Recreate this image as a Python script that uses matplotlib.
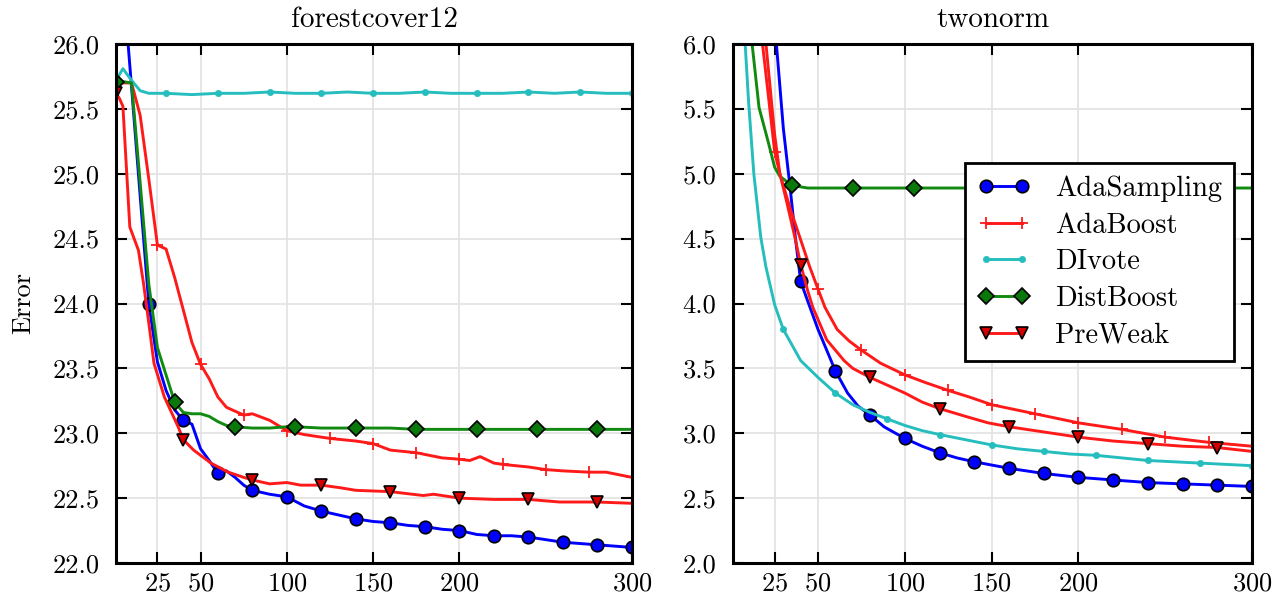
import matplotlib
matplotlib.use("Agg")
import matplotlib.pyplot as plt
from matplotlib.ticker import FormatStrFormatter, FixedLocator

plt.rcParams['font.family'] = ['cmr10', 'DejaVu Serif']
plt.rcParams['axes.formatter.use_mathtext'] = True
plt.rcParams['mathtext.fontset'] = 'cm'

# ---------------- data: forestcover12 ----------------
fc_ada_sampling_x = [1, 5, 10, 15, 20, 25, 30, 35, 40, 45, 50, 55, 60, 65, 70, 75, 80, 90, 100,
                     110, 120, 130, 140, 150, 160, 170, 180, 190, 200, 210, 220, 230, 240, 250,
                     260, 270, 280, 290, 300]
fc_ada_sampling_y = [27.2, 26.5, 25.67, 24.83, 24.0, 23.55, 23.33, 23.18, 23.10, 23.07, 22.88,
                     22.79, 22.69, 22.71, 22.66, 22.60, 22.56, 22.53, 22.51, 22.44, 22.40, 22.37,
                     22.34, 22.32, 22.31, 22.29, 22.28, 22.26, 22.25, 22.22, 22.21, 22.21, 22.20,
                     22.18, 22.16, 22.15, 22.14, 22.13, 22.12]

fc_adaboost_x = [1, 5, 10, 15, 20, 25, 30, 35, 40, 45, 50, 55, 60, 65, 70, 75, 80, 90, 100, 110,
                 125, 140, 150, 160, 175, 190, 200, 206, 212, 220, 225, 240, 250, 260, 275, 285, 300]
fc_adaboost_y = [25.70, 25.70, 25.70, 25.45, 24.96, 24.45, 24.42, 24.20, 23.95, 23.70, 23.53,
                 23.42, 23.28, 23.20, 23.17, 23.14, 23.15, 23.10, 23.02, 22.99, 22.96, 22.94,
                 22.92, 22.87, 22.85, 22.81, 22.80, 22.79, 22.82, 22.77, 22.76, 22.74, 22.72,
                 22.71, 22.70, 22.70, 22.66]

fc_divote_x = [1, 5, 10, 15, 20, 30, 45, 60, 75, 90, 105, 120, 135, 150, 165, 180, 195, 210,
               225, 240, 255, 270, 285, 300]
fc_divote_y = [25.72, 25.81, 25.72, 25.64, 25.62, 25.62, 25.61, 25.62, 25.62, 25.63, 25.62,
               25.62, 25.63, 25.62, 25.62, 25.63, 25.62, 25.62, 25.62, 25.63, 25.62, 25.63,
               25.62, 25.62]

fc_distboost_x = [1, 5, 10, 15, 20, 25, 30, 35, 40, 45, 50, 55, 60, 65, 70, 80, 90, 100, 105,
                  120, 140, 160, 175, 200, 210, 245, 280, 300]
fc_distboost_y = [25.71, 25.71, 25.70, 24.93, 24.15, 23.66, 23.45, 23.24, 23.16, 23.15, 23.15,
                  23.13, 23.09, 23.06, 23.05, 23.04, 23.04, 23.05, 23.05, 23.04, 23.04, 23.04,
                  23.03, 23.03, 23.03, 23.03, 23.03, 23.03]

fc_preweak_x = [1, 3, 5, 9, 14, 17, 20, 23, 29, 37, 40, 46, 56, 66, 75, 80, 90, 100, 108, 120,
                131, 140, 160, 179, 185, 200, 220, 240, 258, 280, 300]
fc_preweak_y = [25.62, 25.58, 25.52, 24.59, 24.41, 24.15, 23.85, 23.54, 23.28, 23.05, 22.95,
                22.87, 22.77, 22.70, 22.66, 22.64, 22.61, 22.62, 22.60, 22.60, 22.58, 22.56,
                22.55, 22.52, 22.53, 22.50, 22.49, 22.49, 22.47, 22.47, 22.46]

# ---------------- data: twonorm ----------------
tn_ada_sampling_x = [1, 10, 20, 26, 30, 34, 37, 40, 44, 50, 55, 60, 67, 73, 80, 88, 100, 110,
                     120, 130, 140, 160, 180, 200, 220, 240, 260, 280, 300]
tn_ada_sampling_y = [14.0, 10.0, 7.4, 6.0, 5.35, 4.88, 4.50, 4.17, 4.02, 3.80, 3.64, 3.48, 3.31,
                     3.21, 3.14, 3.05, 2.96, 2.90, 2.85, 2.81, 2.78, 2.73, 2.69, 2.66, 2.64,
                     2.62, 2.61, 2.60, 2.59]

tn_adaboost_x = [1, 10, 18, 25, 28, 34, 40, 45, 50, 54, 61, 68, 75, 86, 100, 112, 125, 137, 150,
                 175, 200, 225, 250, 275, 300]
tn_adaboost_y = [11.0, 7.5, 6.0, 5.17, 5.00, 4.73, 4.49, 4.29, 4.11, 3.97, 3.80, 3.71, 3.64,
                 3.54, 3.45, 3.39, 3.33, 3.28, 3.22, 3.15, 3.08, 3.03, 2.97, 2.93, 2.90]

tn_divote_x = [1, 5, 8, 10, 13, 17, 20, 25, 30, 40, 50, 60, 70, 80, 90, 100, 110, 120, 135, 150,
               165, 180, 195, 210, 225, 240, 255, 270, 285, 300]
tn_divote_y = [9.5, 7.2, 6.0, 5.55, 5.0, 4.51, 4.28, 3.99, 3.80, 3.56, 3.43, 3.31, 3.22, 3.16,
               3.11, 3.06, 3.02, 2.99, 2.95, 2.91, 2.88, 2.86, 2.84, 2.83, 2.81, 2.79, 2.78,
               2.77, 2.76, 2.75]

tn_distboost_x = [1, 5, 10, 12, 16, 21, 25, 28, 35, 44, 50, 70, 105, 140, 175, 210, 245, 280, 300]
tn_distboost_y = [9.0, 7.5, 6.4, 6.0, 5.51, 5.26, 5.05, 4.98, 4.91, 4.89, 4.89, 4.89, 4.89,
                  4.89, 4.89, 4.89, 4.89, 4.89, 4.89]

tn_preweak_x = [1, 10, 20, 25, 28, 32, 37, 40, 44, 47, 55, 65, 70, 80, 90, 100, 110, 120, 135,
                148, 160, 180, 200, 220, 240, 260, 280, 300]
tn_preweak_y = [11.0, 7.6, 6.0, 5.30, 5.00, 4.78, 4.49, 4.30, 4.10, 3.97, 3.72, 3.56, 3.50,
                3.43, 3.37, 3.31, 3.24, 3.19, 3.13, 3.08, 3.05, 3.01, 2.97, 2.94, 2.92, 2.90,
                2.89, 2.86]

methods = ['AdaSampling', 'AdaBoost', 'DIvote', 'DistBoost', 'PreWeak']
titles = ['forestcover12', 'twonorm']
x_ticks = [25, 50, 100, 150, 200, 300]
fc_y_ticks = [22.0, 22.5, 23.0, 23.5, 24.0, 24.5, 25.0, 25.5, 26.0]
tn_y_ticks = [2.0, 2.5, 3.0, 3.5, 4.0, 4.5, 5.0, 5.5, 6.0]
y_label = 'Error'

panels = [
    dict(title=titles[0], yticks=fc_y_ticks, series={
        'AdaSampling': (fc_ada_sampling_x, fc_ada_sampling_y),
        'AdaBoost': (fc_adaboost_x, fc_adaboost_y),
        'DIvote': (fc_divote_x, fc_divote_y),
        'DistBoost': (fc_distboost_x, fc_distboost_y),
        'PreWeak': (fc_preweak_x, fc_preweak_y)}),
    dict(title=titles[1], yticks=tn_y_ticks, series={
        'AdaSampling': (tn_ada_sampling_x, tn_ada_sampling_y),
        'AdaBoost': (tn_adaboost_x, tn_adaboost_y),
        'DIvote': (tn_divote_x, tn_divote_y),
        'DistBoost': (tn_distboost_x, tn_distboost_y),
        'PreWeak': (tn_preweak_x, tn_preweak_y)}),
]

styles = {
    'AdaSampling': dict(color='#0000ff', marker='o', ms=9, mfc='#0000ff', mec='black', mew=1.2, step=20),
    'AdaBoost': dict(color='#ff1a1a', marker='+', ms=9, mfc='#ff1a1a', mec='#ff1a1a', mew=1.3, step=25),
    'DIvote': dict(color='#25bdbd', marker='o', ms=4.5, mfc='#25bdbd', mec='#25bdbd', mew=0.5, step=30),
    'DistBoost': dict(color='#108a10', marker='D', ms=8.5, mfc='#0a780a', mec='black', mew=1.2, step=35),
    'PreWeak': dict(color='#ff1a1a', marker='v', ms=8.5, mfc='#d40000', mec='black', mew=1.2, step=40),
}

fig = plt.figure(figsize=(12.8, 5.98), dpi=100)
W, H = 1280, 598
boxes = [(116, 632), (733, 1252)]
top_px, bot_px = 44, 563

axes = []
for (l, r), p in zip(boxes, panels):
    ax = fig.add_axes([l / W, 1 - bot_px / H, (r - l) / W, (bot_px - top_px) / H])
    axes.append(ax)
    for m in methods:
        xs, ys = p['series'][m]
        st = styles[m]
        me = [0] + [i for i, v in enumerate(xs) if v % st['step'] == 0 and i != 0]
        ax.plot(xs, ys, color=st['color'], lw=2.1, marker=st['marker'], ms=st['ms'],
                mfc=st['mfc'], mec=st['mec'], mew=st['mew'], markevery=me, label=m)
    ax.set_xlim(1, 300)
    ax.set_ylim(p['yticks'][0], p['yticks'][-1])
    ax.xaxis.set_major_locator(FixedLocator(x_ticks))
    ax.yaxis.set_major_locator(FixedLocator(p['yticks']))
    ax.yaxis.set_major_formatter(FormatStrFormatter('%.1f'))
    ax.grid(True, color='#e2e2e2', lw=1.2)
    ax.set_axisbelow(True)
    for sp in ax.spines.values():
        sp.set_linewidth(2.2)
    ax.tick_params(direction='in', top=True, right=True, length=8, width=1.5,
                   labelsize=19)
    ax.tick_params(axis='x', pad=6)
    ax.tick_params(axis='y', pad=12)
    ax.set_title(p['title'], fontsize=21, pad=12)

axes[0].set_ylabel(y_label, fontsize=19, labelpad=12)

leg = axes[1].legend(loc='upper left', bbox_to_anchor=(0.447, 0.771), borderaxespad=0,
                     numpoints=2, fontsize=20.5, fancybox=False, framealpha=1,
                     edgecolor='black', handlelength=1.85, handletextpad=0.85,
                     labelspacing=0.36, borderpad=0.45)
leg.get_frame().set_linewidth(2)

fig.savefig('out.png', dpi=100)
